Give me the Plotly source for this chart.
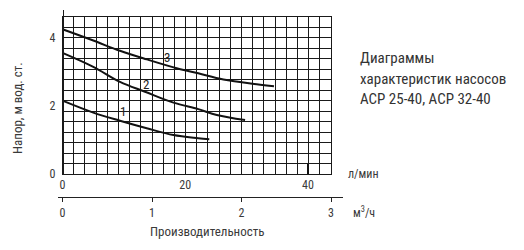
import plotly.graph_objects as go

# ---- data (flow in m3/h, head in m) ----
q3 = [0.0, 0.344, 0.642, 0.941, 1.276, 1.517, 1.797, 2.170, 2.363]
h3 = [4.24, 3.91, 3.61, 3.36, 3.10, 2.95, 2.77, 2.63, 2.57]
q2 = [0.0, 0.344, 0.642, 0.922, 1.240, 1.517, 1.724, 2.040]
h2 = [3.55, 3.14, 2.70, 2.41, 2.09, 1.90, 1.73, 1.58]
q1 = [0.0, 0.344, 0.642, 0.941, 1.240, 1.517, 1.640]
h1 = [2.15, 1.80, 1.56, 1.34, 1.14, 1.05, 1.02]
curve_names = ["1", "2", "3"]
ylabels = [0, 2, 4]
lmin_ticks = [0, 20, 40]
m3h_ticks = [0, 1, 2, 3]
title_lines = ["Диаграммы", "характеристик насосов", "АСР 25-40, АСР 32-40"]

W, H = 524, 250
ML, MR, MT, MB = 40, 170, 10, 0
PW, PH = W - ML - MR, H - MT - MB


def fx(px):
    return (px - ML) / PW


def fy(py):
    return (H - MB - py) / PH


FONT = "Roboto Condensed, Liberation Sans Narrow, DejaVu Sans Condensed, Roboto, sans-serif"
TXT = "#3a3a3a"
GRID = "#1a1a1a"

X0, X1 = 62.5, 331.0
Y0, Y1 = 174.0, 17.0
xdom = [fx(X0), fx(X1)]
ydom = [fy(Y0), fy(Y1)]
XR = [0, 3]
YR = [0, 4.6]
ppu_x = (X1 - X0) / 3.0

fig = go.Figure()
for q, h in [(q1, h1), (q2, h2), (q3, h3)]:
    fig.add_trace(go.Scatter(x=q, y=h, mode="lines", line=dict(color="#111", width=2, shape="spline"),
                             showlegend=False, hoverinfo="skip"))

lmin_range = [0, (X1 - X0) / ((308.0 - X0) / 40.0)]

fig.update_layout(
    width=W, height=H, margin=dict(l=ML, r=MR, t=MT, b=MB, autoexpand=False),
    paper_bgcolor="white", plot_bgcolor="rgba(0,0,0,0)",
    font=dict(family=FONT, size=12, color=TXT),
    xaxis=dict(domain=xdom, range=XR, tickmode="linear", tick0=0, dtick=0.125,
               showgrid=True, gridcolor=GRID, gridwidth=1.3, showticklabels=False,
               ticks="", zeroline=False, showline=True, linecolor=GRID, linewidth=1.3,
               mirror=True, anchor="y"),
    yaxis=dict(domain=ydom, range=YR, tickmode="linear", tick0=0, dtick=4.6 / 15,
               showgrid=True, gridcolor=GRID, gridwidth=1.3, showticklabels=False,
               ticks="", zeroline=False, showline=True, linecolor=GRID, linewidth=1.3,
               mirror=True, anchor="x"),
    # l/min labels
    xaxis2=dict(domain=xdom, range=lmin_range, overlaying="x", anchor="y", side="bottom",
                tickmode="array", tickvals=lmin_ticks, showgrid=False, zeroline=False,
                showline=False, ticks="", ticklabelstandoff=2,
                tickfont=dict(size=12, color=TXT, family=FONT)),
    # tick mark at 40 l/min
    xaxis4=dict(domain=xdom, range=lmin_range, overlaying="x", anchor="y", side="bottom",
                tickmode="array", tickvals=[40], showgrid=False, zeroline=False,
                showline=False, ticks="inside", ticklen=10, tickwidth=2, tickcolor="#111",
                showticklabels=False),
    # m3/h axis
    xaxis3=dict(domain=[fx(58), fx(343)],
                range=[(58 - X0) / ppu_x, (343 - X0) / ppu_x],
                anchor="free", position=fy(197), tickmode="array", tickvals=m3h_ticks,
                showgrid=False, zeroline=False, showline=True, linecolor="#222", linewidth=1.2,
                ticks="outside", ticklen=4, tickwidth=1.2, tickcolor="#222",
                tickfont=dict(size=12, color=TXT, family=FONT)),
    # y labels
    yaxis3=dict(domain=ydom, range=YR, overlaying="y", anchor="x", side="left",
                tickmode="array", tickvals=ylabels, showgrid=False, zeroline=False,
                showline=False, ticks="", ticklabelstandoff=6,
                tickfont=dict(size=12, color=TXT, family=FONT)),
    # vertical axis extension
    yaxis2=dict(domain=[fy(Y0), fy(10)], range=[0, 1], anchor="free", position=fx(X0),
                showgrid=False, zeroline=False, showline=True, linecolor=GRID, linewidth=1.3,
                showticklabels=False, ticks=""),
)

# invisible traces so the helper axes exist
fig.add_trace(go.Scatter(x=[None], y=[None], xaxis="x2", yaxis="y3", showlegend=False))
fig.add_trace(go.Scatter(x=[None], y=[None], xaxis="x4", yaxis="y", showlegend=False))
fig.add_trace(go.Scatter(x=[None], y=[None], xaxis="x3", yaxis="y2", showlegend=False))

ann = []
lab_pos = [(0.672, 1.82), (0.929, 2.61), (1.164, 3.42)]
for name, (lx, ly) in zip(curve_names, lab_pos):
    ann.append(dict(x=lx, y=ly, xref="x", yref="y", text=name, showarrow=False,
                    xanchor="center", yanchor="middle",
                    font=dict(size=13, color="#222", family=FONT)))


def pann(px, py, text, size=13, xanchor="center", angle=0, color=TXT):
    return dict(x=fx(px), y=fy(py), xref="paper", yref="paper", text=text, textangle=angle,
                xanchor=xanchor, yanchor="middle", showarrow=False,
                font=dict(size=size, color=color, family=FONT))


ann.append(pann(17, 108, "Напор, м вод. ст.", angle=-90))
ann.append(pann(207, 231, "Производительность"))
ann.append(pann(346, 174, "л/мин", size=12, xanchor="left"))
ann.append(pann(351, 212, "м<sup>3</sup>/ч", size=12, xanchor="left"))
for i, line in enumerate(title_lines):
    ann.append(pann(358, 58.5 + 20 * i, line, size=15, xanchor="left", color="#333"))
fig.update_layout(annotations=ann)

fig.write_html("out.html")
